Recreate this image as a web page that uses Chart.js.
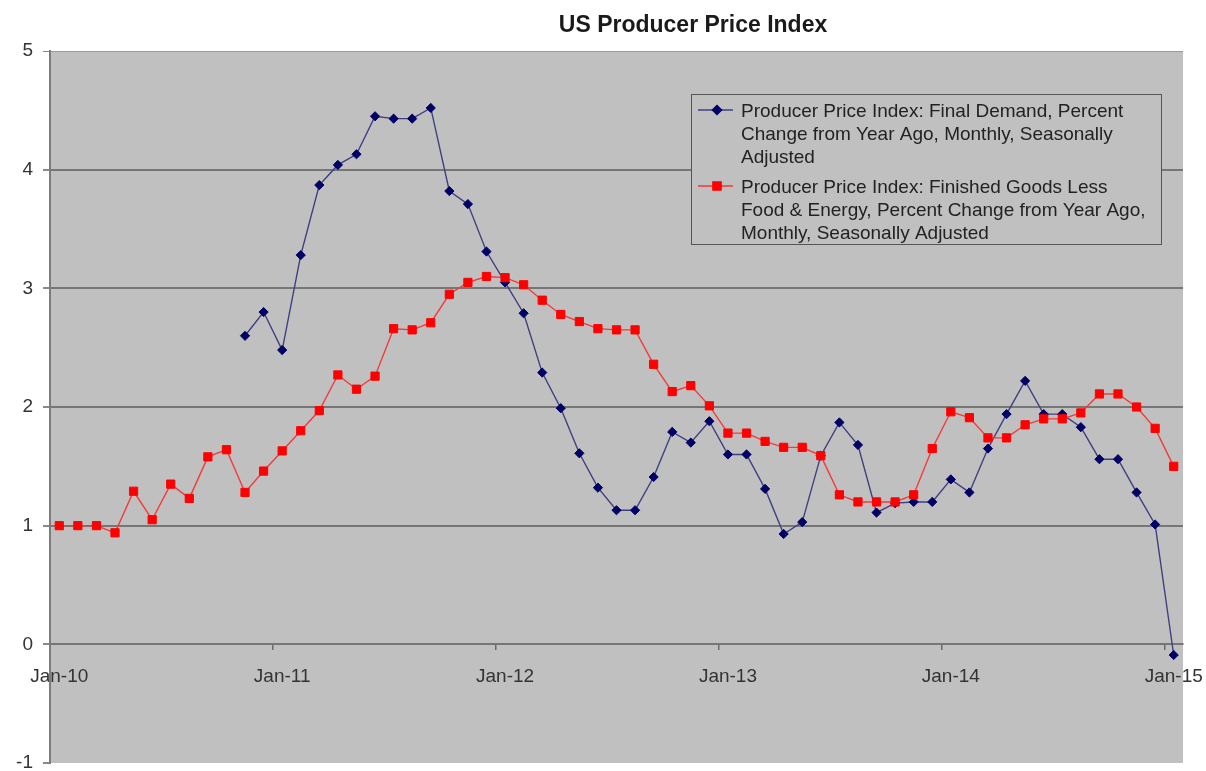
<!DOCTYPE html>
<html>
<head>
<meta charset="utf-8">
<title>US Producer Price Index</title>
<script src="https://cdn.jsdelivr.net/npm/chart.js@4/dist/chart.umd.min.js"></script>
<style>
  html, body { margin: 0; padding: 0; background: #fff; }
  #wrap { position: relative; width: 1206px; height: 771px; }
</style>
</head>
<body>
<div id="wrap"><canvas id="ppi-chart"></canvas></div>
<script>
// month labels Jan-10 .. Jan-15
const years = ['10', '11', '12', '13', '14'];
const monthNames = ['Jan', 'Feb', 'Mar', 'Apr', 'May', 'Jun', 'Jul', 'Aug', 'Sep', 'Oct', 'Nov', 'Dec'];
const categories = [];
years.forEach(y => monthNames.forEach(m => categories.push(m + '-' + y)));
categories.push('Jan-15');

// PPI final demand, % change yoy (series starts Nov-10)
const finalDemand = [
    null, null, null, null, null, null, null, null, null, null, 2.60, 2.80,
    2.48, 3.28, 3.87, 4.04, 4.13, 4.45, 4.43, 4.43, 4.52, 3.82, 3.71, 3.31,
    3.05, 2.79, 2.29, 1.99, 1.61, 1.32, 1.13, 1.13, 1.41, 1.79, 1.70, 1.88,
    1.60, 1.60, 1.31, 0.93, 1.03, 1.59, 1.87, 1.68, 1.11, 1.19, 1.20, 1.20,
    1.39, 1.28, 1.65, 1.94, 2.22, 1.94, 1.94, 1.83, 1.56, 1.56, 1.28, 1.01,
    -0.09
];

// PPI finished goods less food & energy, % change yoy
const coreGoods = [
    1.00, 1.00, 1.00, 0.94, 1.29, 1.05, 1.35, 1.23, 1.58, 1.64, 1.28, 1.46,
    1.63, 1.80, 1.97, 2.27, 2.15, 2.26, 2.66, 2.65, 2.71, 2.95, 3.05, 3.10,
    3.09, 3.03, 2.90, 2.78, 2.72, 2.66, 2.65, 2.65, 2.36, 2.13, 2.18, 2.01,
    1.78, 1.78, 1.71, 1.66, 1.66, 1.59, 1.26, 1.20, 1.20, 1.20, 1.26, 1.65,
    1.96, 1.91, 1.74, 1.74, 1.85, 1.90, 1.90, 1.95, 2.11, 2.11, 2.00, 1.82,
    1.50
];

const yMin = -1;
const yMax = 5;

const legendLines = [
    ['Producer Price Index: Final Demand, Percent', 'Change from Year Ago, Monthly, Seasonally', 'Adjusted'],
    ['Producer Price Index: Finished Goods Less', 'Food & Energy, Percent Change from Year Ago,', 'Monthly, Seasonally Adjusted']
];

const FONT = '"Liberation Sans", Arial, sans-serif';

// grey plot area like the old Excel default
const plotBackground = {
    id: 'plotBackground',
    beforeDraw(chart) {
        const { ctx, chartArea: a } = chart;
        ctx.save();
        ctx.fillStyle = '#c0c0c0';
        ctx.fillRect(a.left, a.top, a.right - a.left, a.bottom - a.top);
        ctx.restore();
    }
};

const chartTitle = {
    id: 'chartTitle',
    afterDraw(chart) {
        const ctx = chart.ctx;
        ctx.save();
        ctx.font = 'bold 23px ' + FONT;
        ctx.fillStyle = '#1a1a1a';
        ctx.textAlign = 'center';
        ctx.textBaseline = 'middle';
        ctx.fillText('US Producer Price Index', 693, 26);
        ctx.restore();
    }
};

// boxed legend with wrapped labels
const boxLegend = {
    id: 'boxLegend',
    afterDraw(chart) {
        const { ctx, chartArea: a } = chart;
        const x0 = a.left + 641, y0 = a.top + 43, w = 470, h = 150;
        ctx.save();
        ctx.fillStyle = '#c0c0c0';
        ctx.fillRect(x0, y0, w, h);
        ctx.strokeStyle = '#555';
        ctx.lineWidth = 1;
        ctx.strokeRect(x0 + 0.5, y0 + 0.5, w, h);

        ctx.font = '19px ' + FONT;
        ctx.fillStyle = '#222';
        ctx.textBaseline = 'alphabetic';
        const lineH = 23.3;
        chart.data.datasets.forEach((ds, i) => {
            const top = y0 + 22.5 + i * 76;
            const symY = top - 6.5;
            ctx.strokeStyle = ds.borderColor;
            ctx.lineWidth = ds.borderWidth;
            ctx.beginPath();
            ctx.moveTo(x0 + 7, symY);
            ctx.lineTo(x0 + 42, symY);
            ctx.stroke();
            ctx.fillStyle = ds.pointBackgroundColor;
            ctx.strokeStyle = ds.pointBorderColor;
            Chart.helpers.drawPoint(ctx, { pointStyle: ds.pointStyle, radius: ds.pointRadius, borderWidth: 1 }, x0 + 26, symY);
            ctx.fillStyle = '#222';
            legendLines[i].forEach((t, j) => ctx.fillText(t, x0 + 50, top + j * lineH));
        });
        ctx.restore();
    }
};

const ctx = document.getElementById('ppi-chart').getContext('2d');
new Chart(ctx, {
    type: 'line',
    data: {
        labels: categories,
        datasets: [
            {
                label: legendLines[0].join(' '), data: finalDemand, order: 1,
                borderColor: '#3f3f80', borderWidth: 1.4,
                pointStyle: 'rectRot', pointRadius: 4.6,
                pointBackgroundColor: '#000066', pointBorderColor: '#000066', pointBorderWidth: 1
            },
            {
                label: legendLines[1].join(' '), data: coreGoods, order: 0,
                borderColor: '#f23a3a', borderWidth: 1.4,
                pointStyle: 'rect', pointRadius: 5.8,
                pointBackgroundColor: '#ff0000', pointBorderColor: '#ff0000', pointBorderWidth: 1
            }
        ]
    },
    options: {
        responsive: true, maintainAspectRatio: false,
        animation: false,
        layout: { padding: { top: 51, right: 23, bottom: 8, left: 0 } },
        plugins: { legend: { display: false }, title: { display: false }, tooltip: { enabled: false } },
        scales: {
            x: {
                type: 'category', position: { y: 0 }, offset: true,
                grid: {
                    offset: true, drawOnChartArea: false, drawTicks: true, tickLength: 5,
                    color: c => (c.index % 12 === 0 ? '#6a6a6a' : 'rgba(0,0,0,0)'), lineWidth: 1.5
                },
                border: { display: true, color: '#767676', width: 2 },
                ticks: {
                    autoSkip: false, maxRotation: 0, padding: 16,
                    color: '#333', font: { family: FONT, size: 19 },
                    callback: (v, i) => (i % 12 === 0 ? categories[i] : '')
                },
                afterFit: s => { s.paddingLeft = 0; s.paddingRight = 0; }
            },
            y: {
                min: yMin, max: yMax,
                grid: {
                    color: c => (c.tick.value === yMax ? '#9c9c9c' : c.tick.value === yMin ? 'rgba(0,0,0,0)' : '#767676'),
                    lineWidth: c => (c.tick.value === yMax ? 1 : 2),
                    tickColor: '#8a8a8a', tickLength: 7
                },
                border: { display: true, color: '#7c7c7c', width: 2 },
                ticks: { stepSize: 1, padding: 10, color: '#333', font: { family: FONT, size: 19 } },
                afterFit: s => { s.width = 50; s.paddingTop = 0; s.paddingBottom = 0; }
            }
        }
    },
    plugins: [plotBackground, chartTitle, boxLegend]
});
</script>
</body>
</html>
